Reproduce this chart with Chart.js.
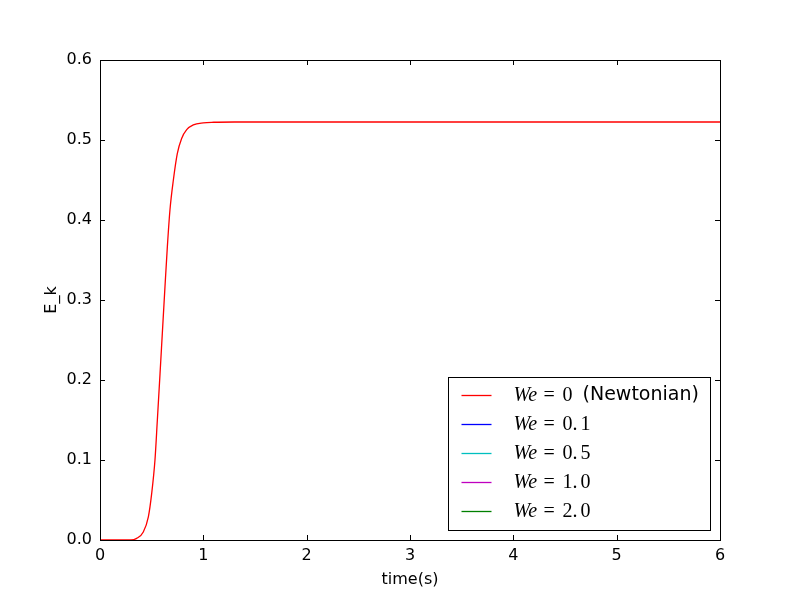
<!DOCTYPE html>
<html>
<head>
<meta charset="utf-8">
<script src="https://cdn.jsdelivr.net/npm/chart.js@4.4.0/dist/chart.umd.min.js"></script>
<style>
  html, body { margin: 0; padding: 0; background: #fff; }
  #wrap { width: 800px; height: 600px; }
</style>
</head>
<body>
<div id="wrap"><canvas id="ekChart"></canvas></div>
<script>
// Kinetic energy vs time
const timeS = [0, 0.3, 0.355, 0.419, 0.468, 0.5, 0.532, 0.555, 0.581, 0.603, 0.629, 0.652, 0.677,
  0.71, 0.748, 0.79, 0.839, 0.903, 1.0, 1.1, 1.3, 1.6, 2, 3, 4, 5, 6];
const ekNewtonian = [0, 0, 0.002, 0.010, 0.029, 0.058, 0.1, 0.15, 0.208, 0.258, 0.317, 0.367, 0.4125,
  0.45, 0.483, 0.502, 0.513, 0.519, 0.5215, 0.5222, 0.5225, 0.5225, 0.5225, 0.5225, 0.5225, 0.5225, 0.5225];

const seriesNames = ['We = 0 (Newtonian)', 'We = 0.1', 'We = 0.5', 'We = 1.0', 'We = 2.0'];
const seriesColors = ['#ff0000', '#0000ff', '#00bfbf', '#bf00bf', '#008000'];
const xTicks = [0, 1, 2, 3, 4, 5, 6];
const yTicks = [0, 0.1, 0.2, 0.3, 0.4, 0.5, 0.6];

const sans = '"DejaVu Sans", sans-serif';
const serif = '"Liberation Serif", serif';

const datasets = seriesNames.map((name, i) => ({
  label: name,
  data: i === 0 ? timeS.map((t, k) => ({ x: t, y: ekNewtonian[k] })) : [],
  borderColor: seriesColors[i],
  borderWidth: 1.3,
  pointRadius: 0,
  fill: false,
  cubicInterpolationMode: 'monotone'
}));

// frame + inward ticks on all four sides, matplotlib classic style
const framePlugin = {
  id: 'frame',
  afterDatasetsDraw(chart) {
    const { ctx, chartArea: a, scales } = chart;
    const len = 5;
    ctx.save();
    ctx.strokeStyle = '#000';
    ctx.lineWidth = 1;
    ctx.beginPath();
    xTicks.forEach(v => {
      const px = Math.round(scales.x.getPixelForValue(v)) + 0.5;
      ctx.moveTo(px, a.bottom); ctx.lineTo(px, a.bottom - len);
      ctx.moveTo(px, a.top); ctx.lineTo(px, a.top + len);
    });
    yTicks.forEach(v => {
      const py = Math.round(scales.y.getPixelForValue(v)) + 0.5;
      ctx.moveTo(a.left, py); ctx.lineTo(a.left + len, py);
      ctx.moveTo(a.right, py); ctx.lineTo(a.right - len, py);
    });
    ctx.stroke();
    ctx.strokeRect(Math.round(a.left) + 0.5, Math.round(a.top) + 0.5,
      Math.round(a.right - a.left), Math.round(a.bottom - a.top));
    ctx.restore();
  }
};

// legend box with math-style labels (We italic, wide '=' spacing like mathtext)
const legendPlugin = {
  id: 'mathLegend',
  afterDraw(chart) {
    const { ctx, chartArea: a } = chart;
    const w = 262, h = 153;
    const x0 = Math.round(a.right - 10 - w) + 0.5;
    const y0 = Math.round(a.bottom - 10 - h) + 0.5;
    ctx.save();
    ctx.fillStyle = '#fff';
    ctx.fillRect(x0, y0, w, h);
    ctx.strokeStyle = '#000';
    ctx.lineWidth = 1;
    ctx.strokeRect(x0, y0, w, h);
    ctx.textBaseline = 'middle';
    chart.data.datasets.forEach((ds, i) => {
      const cy = y0 + 18 + i * 29;
      ctx.strokeStyle = ds.borderColor;
      ctx.lineWidth = 1.3;
      ctx.beginPath();
      ctx.moveTo(x0 + 13, cy); ctx.lineTo(x0 + 43, cy);
      ctx.stroke();
      const m = ds.label.match(/^(We) = ([\d.]+)(.*)$/);
      let tx = x0 + 65;
      ctx.fillStyle = '#000';
      ctx.font = 'italic 20px ' + serif;
      ctx.fillText(m[1], tx, cy);
      tx += 30;
      ctx.font = '20px ' + serif;
      ctx.fillText('=', tx, cy);
      tx += 19;
      const parts = m[2].split('.');
      ctx.fillText(parts[0], tx, cy);
      tx += ctx.measureText(parts[0]).width;
      if (parts.length > 1) {
        ctx.fillText('.', tx, cy);
        tx += ctx.measureText('.').width + 3;
        ctx.fillText(parts[1], tx, cy);
        tx += ctx.measureText(parts[1]).width;
      }
      if (m[3]) {
        ctx.font = '19px ' + sans;
        ctx.fillText(m[3], tx + 4, cy);
      }
    });
    ctx.restore();
  }
};

const ctx = document.getElementById('ekChart').getContext('2d');
new Chart(ctx, {
  type: 'line',
  data: { datasets: datasets },
  options: {
    responsive: true,
    maintainAspectRatio: false,
    animation: false,
    layout: { padding: { left: 0, right: 80, top: 60, bottom: 0 } },
    plugins: {
      legend: { display: false },
      tooltip: { enabled: false }
    },
    scales: {
      x: {
        type: 'linear',
        min: 0,
        max: 6,
        afterFit: s => { s.height = 60; },
        afterBuildTicks: s => { s.ticks = xTicks.map(v => ({ value: v })); },
        grid: { display: false, drawTicks: false },
        border: { display: false },
        ticks: { color: '#000', padding: 6, font: { family: sans, size: 16 }, maxRotation: 0 },
        title: { display: true, text: 'time(s)', color: '#000', font: { family: sans, size: 16 }, padding: { bottom: 11 } }
      },
      y: {
        min: 0,
        max: 0.6,
        afterFit: s => { s.width = 100; },
        afterBuildTicks: s => { s.ticks = yTicks.map(v => ({ value: v })); },
        grid: { display: false, drawTicks: false },
        border: { display: false },
        ticks: { color: '#000', padding: 8, font: { family: sans, size: 16 }, callback: v => v.toFixed(1) },
        title: { display: true, text: 'E_k', color: '#000', font: { family: sans, size: 16 }, padding: { top: 42 } }
      }
    }
  },
  plugins: [framePlugin, legendPlugin]
});
</script>
</body>
</html>
